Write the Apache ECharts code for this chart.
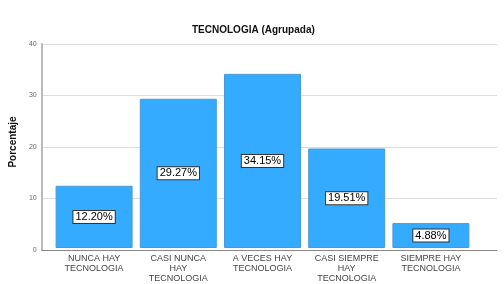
<!DOCTYPE html>
<html>
<head>
<meta charset="utf-8">
<script src="https://cdn.jsdelivr.net/npm/echarts@6/dist/echarts.min.js"></script>
<style>
  html, body { margin: 0; padding: 0; background: #fff; }
  #chart { width: 504px; height: 284px; }
</style>
</head>
<body>
<div id="chart"></div>
<script>
// datos
const categorias = [
  'NUNCA HAY\nTECNOLOGIA',
  'CASI NUNCA\nHAY\nTECNOLOGIA',
  'A VECES HAY\nTECNOLOGIA',
  'CASI SIEMPRE\nHAY\nTECNOLOGIA',
  'SIEMPRE HAY\nTECNOLOGIA'
];
const porcentajes = [12.20, 29.27, 34.15, 19.51, 4.88];
const yTicks = [0, 10, 20, 30, 40];

const chart = echarts.init(document.getElementById('chart'));

const option = {
  animation: false,
  textStyle: { fontFamily: 'Liberation Sans, Arial, sans-serif' },
  title: {
    text: 'TECNOLOGIA (Agrupada)',
    left: 187,
    top: 20,
    textStyle: { fontSize: 10, fontWeight: 'bold', color: '#111' }
  },
  grid: [
    // marco: eje y y líneas guía
    { left: 29, right: 7, top: 44, bottom: 34 },
    // barras
    { left: 52, right: 31, top: 44, bottom: 34 }
  ],
  xAxis: [
    {
      gridIndex: 0,
      type: 'category',
      data: [''],
      axisTick: { show: false },
      axisLabel: { show: false },
      axisLine: { lineStyle: { color: '#888', width: 1 } }
    },
    {
      gridIndex: 1,
      type: 'category',
      data: categorias,
      axisTick: { show: false },
      axisLine: { show: false },
      axisLabel: {
        interval: 0,
        margin: 6,
        fontSize: 9,
        lineHeight: 10,
        color: '#444'
      }
    }
  ],
  yAxis: [
    {
      gridIndex: 0,
      type: 'value',
      min: yTicks[0],
      max: yTicks[yTicks.length - 1],
      interval: 10,
      name: 'Porcentaje',
      nameLocation: 'middle',
      nameGap: 17,
      nameTextStyle: { fontSize: 10, fontWeight: 'bold', color: '#111', padding: [0, 0, 0, 10] },
      axisLine: { show: true, lineStyle: { color: '#bbb', width: 2 } },
      axisTick: { show: false },
      axisLabel: { fontSize: 7, color: '#666', margin: 5 },
      splitLine: { lineStyle: { color: '#ddd', width: 1 } }
    },
    {
      gridIndex: 1,
      type: 'value',
      min: yTicks[0],
      max: yTicks[yTicks.length - 1],
      show: false,
      splitLine: { show: false }
    }
  ],
  series: [
    {
      type: 'bar',
      xAxisIndex: 1,
      yAxisIndex: 1,
      data: porcentajes,
      barWidth: 77,
      itemStyle: {
        color: '#35abff',
        borderColor: '#4a9ad8',
        borderWidth: 1
      },
      label: {
        show: true,
        position: 'inside',
        formatter: p => p.value.toFixed(2) + '%',
        fontSize: 11,
        color: '#000',
        backgroundColor: '#fff',
        borderColor: '#333',
        borderWidth: 1,
        padding: [1, 2, 0, 2]
      }
    }
  ]
};

chart.setOption(option);
</script>
</body>
</html>
